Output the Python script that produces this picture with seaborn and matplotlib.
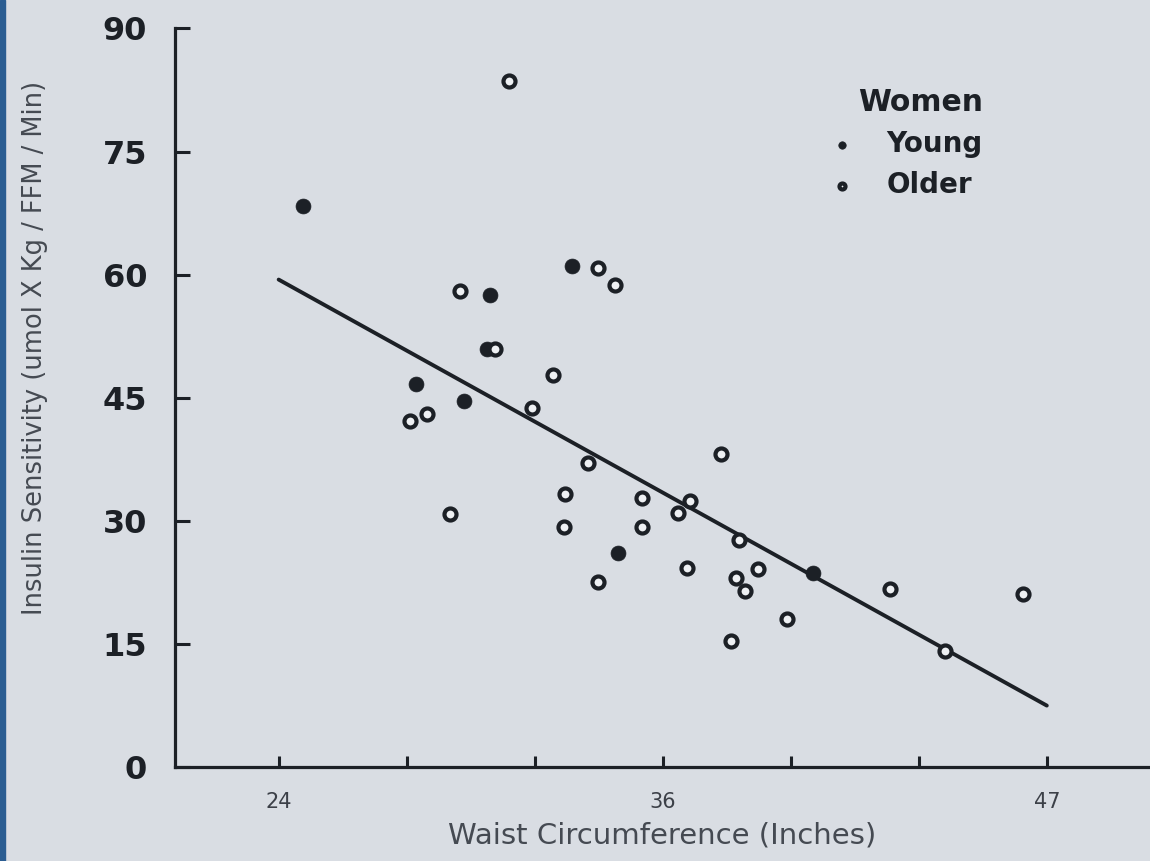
import matplotlib
matplotlib.use('Agg')
import matplotlib.pyplot as plt
import seaborn as sns
import pandas as pd

# Values
young_waist = [24.72, 28.10, 29.54, 30.32, 30.23, 32.77, 34.15, 39.99]
young_insulin = [68.4, 46.7, 44.6, 57.5, 50.9, 61.0, 26.1, 23.6]

older_waist = [30.89, 29.42, 33.55, 34.06, 32.21, 31.58, 27.92, 28.43, 29.12, 33.25,
               32.57, 32.54, 34.87, 34.87, 33.55, 35.95, 36.31, 37.24, 36.22, 37.78,
               37.69, 37.96, 38.35, 39.21, 37.54, 42.30, 46.28, 43.95, 30.47]
older_insulin = [83.6, 58.0, 60.8, 58.7, 47.8, 43.7, 42.2, 43.0, 30.9, 37.1,
                 33.3, 29.2, 32.8, 29.3, 22.5, 31.0, 32.4, 38.2, 24.3, 27.7,
                 23.0, 21.4, 24.2, 18.0, 15.4, 21.7, 21.1, 14.2, 50.9]

# regression line (end points as drawn in the figure)
fit_waist = [24, 47]
fit_insulin = [59.4, 7.5]

x_ticks = [24, 27.83, 31.67, 35.5, 39.33, 43.17, 47]
x_tick_labels = ['24', '', '', '36', '', '', '47']
y_ticks = [0, 15, 30, 45, 60, 75, 90]

young = pd.DataFrame({'Waist': young_waist, 'Insulin': young_insulin})
older = pd.DataFrame({'Waist': older_waist, 'Insulin': older_insulin})
fit = pd.DataFrame({'Waist': fit_waist, 'Insulin': fit_insulin})

sns.set_style('ticks')
plt.rcParams['font.family'] = ['DejaVu Sans']

bg = '#d9dde3'
ink = '#1c2026'
grey_text = '#454a52'

fig = plt.figure(figsize=(11.5, 8.61), dpi=100)
fig.patch.set_facecolor(bg)
ax = fig.add_axes([0.152, 0.109, 0.848, 0.858])
ax.set_facecolor(bg)

sns.lineplot(x='Waist', y='Insulin', data=fit, color=ink, linewidth=2.8, ax=ax, zorder=2)
sns.scatterplot(x='Waist', y='Insulin', data=young, s=115, color=ink, edgecolor=ink,
                linewidth=0.5, ax=ax, zorder=3, label='Young')
sns.scatterplot(x='Waist', y='Insulin', data=older, s=75, facecolor='#eef0f3', edgecolor=ink,
                linewidth=3.0, ax=ax, zorder=3, label='Older')

ax.set_xlim(20.89, 50.09)
ax.set_ylim(0, 90)
ax.set_xticks(x_ticks)
ax.set_xticklabels(x_tick_labels)
ax.set_yticks(y_ticks)
ax.set_yticklabels([str(v) for v in y_ticks])

sns.despine(ax=ax)
for side in ['left', 'bottom']:
    ax.spines[side].set_linewidth(2.3)
    ax.spines[side].set_color(ink)

ax.tick_params(axis='y', direction='in', length=11, width=2.2, color=ink, pad=20,
               labelsize=23, labelcolor=ink)
ax.tick_params(axis='x', direction='in', length=8, width=2.2, color=ink, pad=18,
               labelsize=15, labelcolor='#3c4048')
for lbl in ax.get_yticklabels():
    lbl.set_fontweight('bold')

ax.set_xlabel('Waist Circumference (Inches)', fontsize=21, color=grey_text, labelpad=7)
ax.set_ylabel('Insulin Sensitivity (umol X Kg / FFM / Min)', fontsize=18.5, color=grey_text)
ax.yaxis.set_label_coords(-0.13, 0.567)

leg = ax.legend(title='Women', frameon=False, loc='upper left', bbox_to_anchor=(0.636, 0.945),
                markerscale=0.5, handletextpad=0.6, labelspacing=0.46, borderpad=0.2,
                prop={'size': 20, 'weight': 'bold'}, title_fontsize=21.5, alignment='right')
leg.get_title().set_fontweight('bold')
for t in leg.get_texts():
    t.set_color(ink)
leg.get_title().set_color(ink)

fig.add_artist(plt.Rectangle((0, 0), 0.004, 1, transform=fig.transFigure,
                             color='#2b5d92', zorder=0))

fig.savefig('out.png', dpi=100, facecolor=bg)
